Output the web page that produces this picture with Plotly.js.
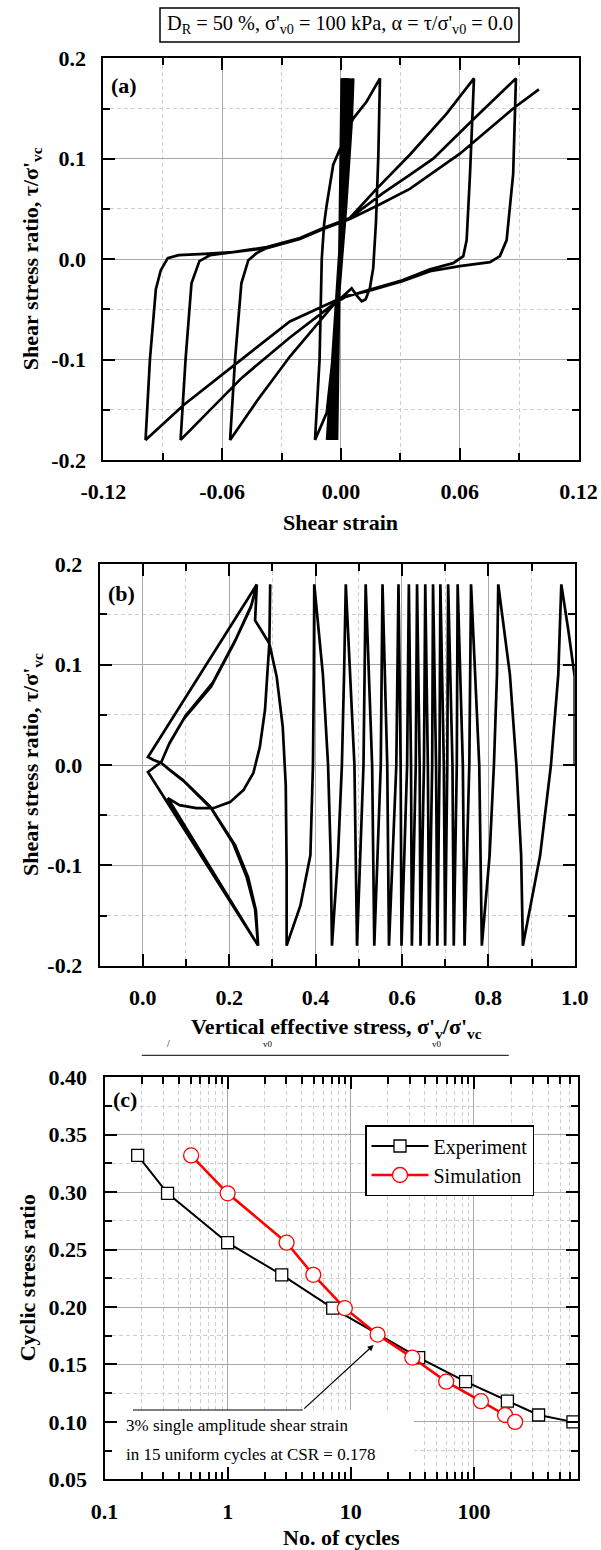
<!DOCTYPE html>
<html><head><meta charset="utf-8">
<script src="https://cdn.plot.ly/plotly-3.0.1.min.js"></script>
<style>html,body{margin:0;padding:0;background:#fff}</style>
</head><body>
<div id="chart" style="width:601px;height:1550px"></div>
<script>
// ---------- Panel (a): shear strain vs shear stress ratio ----------
const strainA = [
  0, 0.0004,-0.0020, 0.0007,-0.0024, 0.0010,-0.0027, 0.0013,-0.0030, 0.0016,-0.0033, 0.0019,-0.0036, 0.0022,-0.0039,
  0.0025,-0.0042, 0.0028,-0.0045, 0.0031,-0.0049, 0.0035,-0.0053, 0.0039,-0.0058, 0.0044,-0.0063, 0.0050,-0.0070,
  0.0062, 0.0054, 0.0025,-0.0020,-0.0072,-0.0131,
  -0.0108,-0.0097,-0.0085,-0.0072,-0.0039,-0.0005, 0.0062, 0.0130, 0.0197,
  0.0189, 0.0177, 0.0163, 0.0146, 0.0125, 0.0105, 0.0079, 0.0054,
  -0.0040,-0.0258,-0.0420,-0.0560,
  -0.0535,-0.0503,-0.0468,-0.0426,-0.0375,-0.0207,-0.0089, 0.0045, 0.0180, 0.0348, 0.0534, 0.0672,
  0.0652, 0.0635, 0.0618, 0.0567, 0.0450, 0.0310, 0.0135, 0.0019,-0.0040,-0.0258,-0.0500,-0.0810,
  -0.0785,-0.0755,-0.0715,-0.0660,-0.0544,-0.0375,-0.0207,-0.0089, 0.0045, 0.0214, 0.0348, 0.0466, 0.0668, 0.0884,
  0.0870, 0.0837, 0.0803, 0.0753, 0.0600, 0.0450, 0.0310, 0.0135, 0.0019,-0.0258,-0.0523,-0.0793,-0.0987,
  -0.0965,-0.0935,-0.0910,-0.0875,-0.0820,-0.0712,-0.0544,-0.0375,-0.0207,-0.0089, 0.0045, 0.0180, 0.0348, 0.0601, 0.0870, 0.1000
];
const stressA = [
  0, 0.18,-0.18, 0.18,-0.18, 0.18,-0.18, 0.18,-0.18, 0.18,-0.18, 0.18,-0.18, 0.18,-0.18,
  0.18,-0.18, 0.18,-0.18, 0.18,-0.18, 0.18,-0.18, 0.18,-0.18, 0.18,-0.18, 0.18,-0.18,
  0.180, 0.137, 0.050,-0.060,-0.153,-0.180,
  -0.100, 0.000, 0.035, 0.054, 0.094, 0.110, 0.140, 0.157, 0.180,
  0.104, 0.037,-0.009,-0.029,-0.040,-0.042,-0.036,-0.029,
  -0.046,-0.097,-0.140,-0.180,
  -0.100,-0.024,-0.001, 0.006, 0.011, 0.020, 0.031, 0.041, 0.070, 0.104, 0.145, 0.180,
  0.085, 0.019, 0.003,-0.004,-0.010,-0.021,-0.031,-0.038,-0.045,-0.078,-0.118,-0.180,
  -0.100,-0.024,-0.002, 0.004, 0.007, 0.012, 0.021, 0.031, 0.041, 0.066, 0.084, 0.100, 0.139, 0.180,
  0.085, 0.019, 0.003,-0.003,-0.007,-0.012,-0.022,-0.032,-0.037,-0.062,-0.103,-0.145,-0.180,
  -0.100,-0.030,-0.011, 0.001, 0.004, 0.005, 0.007, 0.011, 0.020, 0.030, 0.040, 0.053, 0.070, 0.105, 0.150, 0.169
];

// ---------- Panel (b): vertical effective stress vs shear stress ratio ----------
const sigmaB = [
  1.000,1.000,0.985,0.969,
  0.962,0.945,0.920,0.880,
  0.876,0.865,0.850,0.823,
  0.820,0.813,0.803,0.785,
  0.779,0.760, 0.756,0.745, 0.741,0.729, 0.727,0.720, 0.717,0.707, 0.705,0.700,
  0.697,0.689, 0.687,0.682, 0.679,0.672, 0.670,0.663, 0.660,0.654, 0.651,0.643,
  0.641,0.635, 0.632,0.623, 0.621,0.616, 0.612,0.599, 0.597,0.592, 0.587,0.570,
  0.566,0.555, 0.551,0.536, 0.531,0.516, 0.511,0.496, 0.490,0.470,
  0.466,0.461,0.452,0.438,
  0.435,0.429,0.417,0.397,
  0.396,0.394,0.388,0.365,0.333,
  0.333,0.331,0.324,0.310,0.293,
  0.276,0.260,0.262,0.264,0.262,0.260,0.276,0.293,
  0.294,0.295,0.294,0.293,
  0.289,0.283,0.271,0.256,0.233,0.202,0.163,0.124,0.085,0.058,
  0.267,
  0.260,0.240,0.209,0.155,0.093,0.060,0.043,0.025,0.012,
  0.264,
  0.250,0.212,0.158,0.095,0.060,0.043,0.025,0.012,
  0.267,
  0.262,0.244,0.214,0.160,0.097,0.062,0.043,0.025,0.012,
  0.264,
  0.252,0.216,0.162,0.099,0.062,0.043,0.025,0.012,
  0.267,
  0.260,0.240,0.209,0.155,0.093,0.060,0.043,0.025,0.012,
  0.248
];
const tauB = [
  0.000,0.088,0.135,0.180,
  0.090,0.000,-0.090,-0.180,
  -0.090,0.000,0.090,0.180,
  0.090,0.000,-0.090,-0.180,
  0.000,0.180, 0.000,-0.180, 0.000,0.180, 0.000,-0.180, 0.000,0.180, 0.000,-0.180,
  0.000,0.180, 0.000,-0.180, 0.000,0.180, 0.000,-0.180, 0.000,0.180, 0.000,-0.180,
  0.000,0.180, 0.000,-0.180, 0.000,0.180, 0.000,-0.180, 0.000,0.180, 0.000,-0.180,
  0.000,0.180, 0.000,-0.180, 0.000,0.180, 0.000,-0.180, 0.000,0.180,
  0.090,0.000,-0.090,-0.180,
  -0.090,0.000,0.090,0.180,
  0.090,0.000,-0.090,-0.140,-0.180,
  -0.100,-0.020,0.038,0.088,0.121,
  0.133,0.144,0.162,0.180,0.162,0.144,0.133,0.121,
  0.150,0.180,0.150,0.121,
  0.095,0.055,0.018,-0.008,-0.025,-0.037,-0.043,-0.043,-0.040,-0.033,
  -0.180,
  -0.144,-0.111,-0.078,-0.041,-0.015,-0.004,0.002,0.005,0.008,
  0.180,
  0.157,0.122,0.078,0.046,0.020,0.003,-0.003,-0.007,
  -0.180,
  -0.145,-0.112,-0.080,-0.044,-0.017,-0.005,0.002,0.005,0.008,
  0.180,
  0.160,0.126,0.082,0.049,0.022,0.003,-0.003,-0.007,
  -0.180,
  -0.144,-0.111,-0.078,-0.041,-0.015,-0.004,0.002,0.005,0.008,
  0.169
];

// ---------- Panel (c): cyclic stress ratio vs number of cycles ----------
const expCycles = [0.186, 0.325, 1.0, 2.75, 7.13, 35.6, 85.5, 187, 335, 637];
const expCSR    = [0.332, 0.299, 0.256, 0.228, 0.199, 0.156, 0.135, 0.118, 0.106, 0.100];
const simCycles = [0.505, 1.0, 3.01, 4.96, 8.95, 16.5, 31.6, 59.5, 114, 179, 216];
const simCSR    = [0.332, 0.299, 0.256, 0.228, 0.199, 0.176, 0.156, 0.135, 0.118, 0.106, 0.100];

// ---------- Tick values / labels ----------
const strainTicks = [-0.12, -0.06, 0, 0.06, 0.12];
const strainLabels = ['-0.12', '-0.06', '0.00', '0.06', '0.12'];
const ratioTicks = [-0.2, -0.1, 0, 0.1, 0.2];
const ratioLabels = ['-0.2', '-0.1', '0.0', '0.1', '0.2'];
const sigmaTicks = [0, 0.2, 0.4, 0.6, 0.8, 1.0];
const sigmaLabels = ['0.0', '0.2', '0.4', '0.6', '0.8', '1.0'];
const cycleTicks = [0.1, 1, 10, 100];
const cycleLabels = ['0.1', '1', '10', '100'];
const csrTicks = [0.05, 0.10, 0.15, 0.20, 0.25, 0.30, 0.35, 0.40];
const csrLabels = ['0.05', '0.10', '0.15', '0.20', '0.25', '0.30', '0.35', '0.40'];

const SERIF = 'Liberation Serif, Times New Roman, serif';
const W = 601, H = 1550;
const px = v => v / W;           // x pixel -> paper
const py = v => 1 - v / H;       // y pixel -> paper

function ax(extra, minor) {
  return Object.assign({
    showline: true, linecolor: '#000', linewidth: 2, mirror: 'ticks',
    ticks: 'inside', ticklen: 12, tickwidth: 2, tickcolor: '#000',
    showgrid: true, gridcolor: '#a8a8a8', gridwidth: 1, zeroline: false,
    tickmode: 'array', ticklabelstandoff: 11,
    tickfont: {family: SERIF, size: 22, color: '#000', weight: 'bold'},
    fixedrange: true,
    minor: Object.assign({
      ticks: 'inside', ticklen: 7, tickwidth: 2, tickcolor: '#000',
      showgrid: true, gridcolor: '#cfcfcf', gridwidth: 1, griddash: '4px,3px'
    }, minor)
  }, extra);
}

const lineStyle = {color: '#000', width: 2.7};

const traces = [
  {x: strainA, y: stressA, xaxis: 'x', yaxis: 'y', mode: 'lines', line: lineStyle, showlegend: false, hoverinfo: 'skip'},
  {x: sigmaB, y: tauB, xaxis: 'x2', yaxis: 'y2', mode: 'lines', line: lineStyle, showlegend: false, hoverinfo: 'skip'},
  {x: expCycles, y: expCSR, xaxis: 'x3', yaxis: 'y3', mode: 'lines+markers', name: 'Experiment',
   line: {color: '#000', width: 2},
   marker: {symbol: 'square', size: 12, color: '#fff', line: {color: '#000', width: 1.3}}},
  {x: simCycles, y: simCSR, xaxis: 'x3', yaxis: 'y3', mode: 'lines+markers', name: 'Simulation',
   line: {color: '#ff0000', width: 2.6},
   marker: {symbol: 'circle', size: 15, color: '#fff', line: {color: '#ff0000', width: 1.3}}}
];

const bold = (s) => '<b>' + s + '</b>';
const titleFont = {family: SERIF, size: 22, color: '#000'};
const noteFont = {family: SERIF, size: 17, color: '#000'};

const layout = {
  width: W, height: H,
  margin: {l: 0, r: 0, t: 0, b: 0},
  paper_bgcolor: '#fff', plot_bgcolor: '#fff',
  showlegend: true,
  legend: {
    x: px(365), y: py(1125), xanchor: 'left', yanchor: 'top',
    bgcolor: '#fff', bordercolor: '#000', borderwidth: 1.5,
    font: {family: SERIF, size: 20, color: '#000'},
    itemwidth: 57, tracegroupgap: 0
  },
  xaxis: ax({domain: [px(103.4), px(578.5)], anchor: 'y', range: [-0.12, 0.12],
             tickvals: strainTicks, ticktext: strainLabels}, {dtick: 0.03, tick0: 0}),
  yaxis: ax({domain: [py(460), py(58.3)], anchor: 'x', range: [-0.2, 0.2],
             tickvals: ratioTicks, ticktext: ratioLabels}, {dtick: 0.05, tick0: 0}),
  xaxis2: ax({domain: [px(99.6), px(574.7)], anchor: 'y2', range: [-0.1, 1.0],
              tickvals: sigmaTicks, ticktext: sigmaLabels}, {dtick: 0.1, tick0: 0}),
  yaxis2: ax({domain: [py(965.7), py(564.3)], anchor: 'x2', range: [-0.2, 0.2],
              tickvals: ratioTicks, ticktext: ratioLabels}, {dtick: 0.05, tick0: 0}),
  xaxis3: ax({domain: [px(104.5), px(578)], anchor: 'y3', type: 'log', range: [-1, Math.log10(700)],
              tickvals: cycleTicks, ticktext: cycleLabels}, {dtick: 'D1'}),
  yaxis3: ax({domain: [py(1479.3), py(1077.3)], anchor: 'x3', range: [0.05, 0.40],
              tickvals: csrTicks, ticktext: csrLabels}, {dtick: 0.025, tick0: 0}),
  shapes: [
    // header box
    {type: 'rect', xref: 'paper', yref: 'paper', x0: px(160), x1: px(519), y0: py(42), y1: py(8),
     line: {color: '#000', width: 1.5}, fillcolor: 'rgba(0,0,0,0)'},
    // clipped line between panels (b) and (c)
    {type: 'line', xref: 'paper', yref: 'paper', x0: px(141.8), x1: px(508.8), y0: py(1055.3), y1: py(1055.3),
     line: {color: '#000', width: 1}},
    // white backing behind the note in panel (c) (covers grid only)
    {type: 'rect', xref: 'x3', yref: 'y3', x0: 0.05, x1: 32.6, y0: 0.04, y1: 0.1103,
     fillcolor: '#fff', line: {width: 0}, layer: 'between'},
    // horizontal leader line of the note
    {type: 'line', xref: 'paper', yref: 'paper', x0: px(133), x1: px(302.7), y0: py(1410), y1: py(1410),
     line: {color: '#000', width: 1.2}}
  ],
  annotations: [
    {xref: 'paper', yref: 'paper', x: px(339.5), y: py(25), xanchor: 'center', yanchor: 'middle', showarrow: false,
     text: 'D<sub>R</sub> = 50 %, σ\'<sub>v0</sub> = 100 kPa, α = τ/σ\'<sub>v0</sub> = 0.0',
     font: {family: SERIF, size: 20.3, color: '#000'}},
    // panel labels
    {xref: 'paper', yref: 'paper', x: px(124), y: py(86), xanchor: 'center', yanchor: 'middle', showarrow: false,
     text: bold('(a)'), font: titleFont},
    {xref: 'paper', yref: 'paper', x: px(121.7), y: py(593.3), xanchor: 'center', yanchor: 'middle', showarrow: false,
     text: bold('(b)'), font: titleFont},
    {xref: 'paper', yref: 'paper', x: px(124.5), y: py(1099.5), xanchor: 'center', yanchor: 'middle', showarrow: false,
     text: bold('(c)'), font: titleFont},
    // axis titles
    {xref: 'paper', yref: 'paper', x: px(340.9), y: py(522), xanchor: 'center', yanchor: 'middle', showarrow: false,
     text: bold('Shear strain'), font: titleFont},
    {xref: 'paper', yref: 'paper', x: px(32), y: py(259.2), xanchor: 'center', yanchor: 'middle', showarrow: false,
     textangle: -90, text: bold('Shear stress ratio, τ/σ\'<sub>vc</sub>'), font: titleFont},
    {xref: 'paper', yref: 'paper', x: px(337), y: py(1028), xanchor: 'center', yanchor: 'middle', showarrow: false,
     text: bold('Vertical effective stress, σ\'<sub>v</sub>/σ\'<sub>vc</sub>'), font: titleFont},
    {xref: 'paper', yref: 'paper', x: px(32), y: py(765), xanchor: 'center', yanchor: 'middle', showarrow: false,
     textangle: -90, text: bold('Shear stress ratio, τ/σ\'<sub>vc</sub>'), font: titleFont},
    {xref: 'paper', yref: 'paper', x: px(341), y: py(1537), xanchor: 'center', yanchor: 'middle', showarrow: false,
     text: bold('No. of cycles'), font: titleFont},
    {xref: 'paper', yref: 'paper', x: px(27), y: py(1278.3), xanchor: 'center', yanchor: 'middle', showarrow: false,
     textangle: -90, text: bold('Cyclic stress ratio'), font: titleFont},
    // clipped fragments above the stray line
    {xref: 'paper', yref: 'paper', x: px(165), y: py(1051), showarrow: false, text: '/', font: {family: SERIF, size: 10, color: '#000'}},
    {xref: 'paper', yref: 'paper', x: px(268), y: py(1051), showarrow: false, text: 'v0', font: {family: SERIF, size: 9, color: '#000'}},
    {xref: 'paper', yref: 'paper', x: px(444), y: py(1051), showarrow: false, text: 'v0', font: {family: SERIF, size: 9, color: '#000'}},
    // note in panel (c)
    {xref: 'paper', yref: 'paper', x: px(373.6), y: py(1345), ax: -70.9, ay: 65, axref: 'pixel', ayref: 'pixel',
     showarrow: true, arrowhead: 2, arrowsize: 1, arrowwidth: 1.2, arrowcolor: '#000', text: ''},
    {xref: 'paper', yref: 'paper', x: px(123.8), y: py(1425.7), xanchor: 'left', yanchor: 'middle', showarrow: false,
     text: '3% single amplitude shear strain', font: noteFont},
    {xref: 'paper', yref: 'paper', x: px(123.8), y: py(1454.3), xanchor: 'left', yanchor: 'middle', showarrow: false,
     text: 'in 15 uniform cycles at CSR = 0.178', font: noteFont}
  ]
};

Plotly.newPlot('chart', traces, layout, {staticPlot: true, displayModeBar: false});
</script>
</body></html>
